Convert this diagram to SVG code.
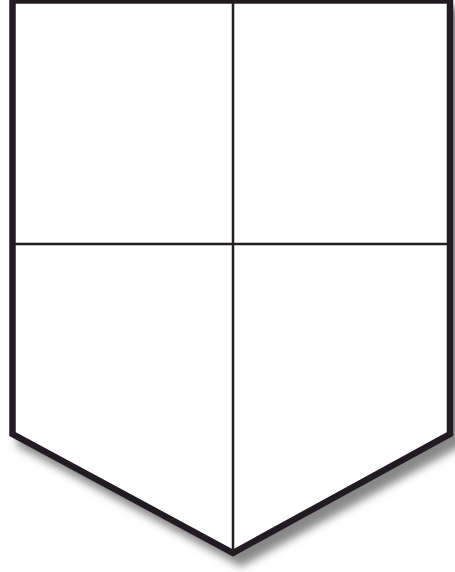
<svg xmlns="http://www.w3.org/2000/svg" width="455" height="572" viewBox="0 0 455 572">
<defs>
<filter id="sh" x="-10%" y="-10%" width="130%" height="130%">
<feDropShadow dx="8" dy="10" stdDeviation="4" flood-color="#7a7a7a" flood-opacity="0.9"/>
</filter>
<style>
.outline{fill:#fff;stroke:#231f20;stroke-width:6.5;stroke-linejoin:miter}
.div{stroke:#231f20;stroke-width:2.5;fill:none}
</style>
</defs>
<rect width="455" height="572" fill="#fff"/>
<g id="shield">
<polygon class="outline" filter="url(#sh)" points="12.5,0.5 450,0.5 450,434 233,553 12.5,434"/>
</g>
<g id="dividers">
<line class="div" x1="233" y1="2" x2="233" y2="552"/>
<line class="div" x1="14" y1="244" x2="448" y2="244"/>
</g>
</svg>
